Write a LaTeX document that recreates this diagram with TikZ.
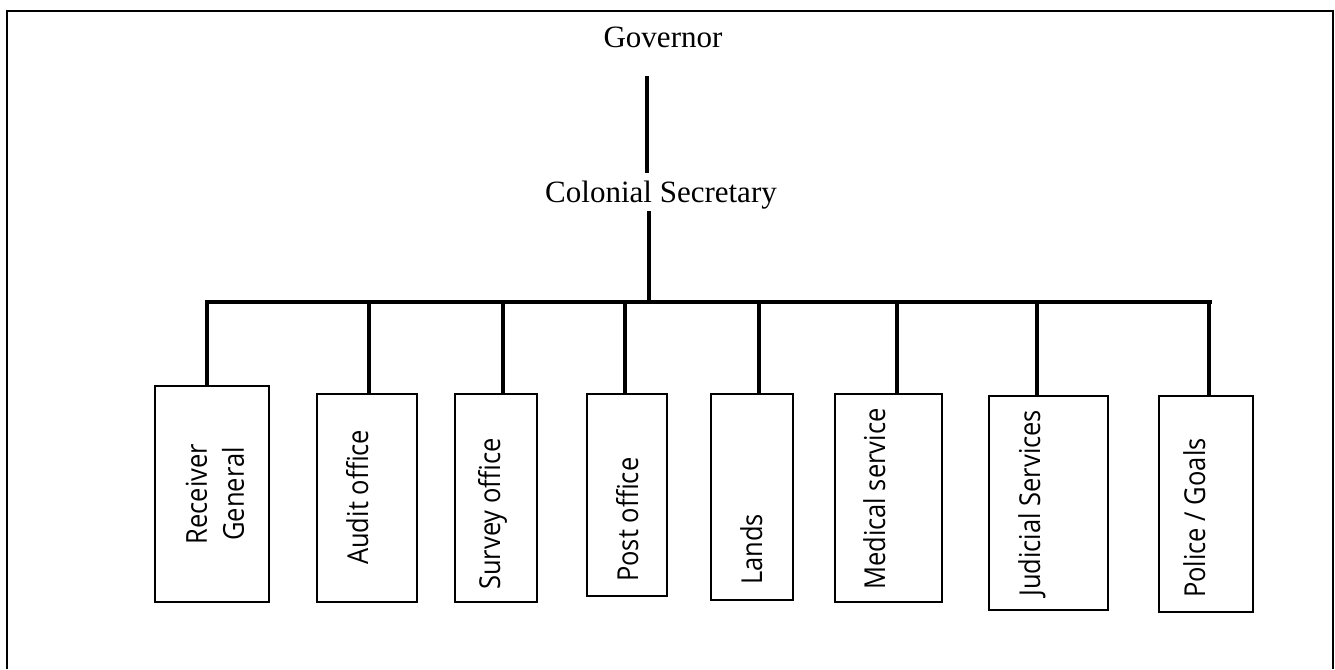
\documentclass[tikz,border=0pt]{standalone}
\usepackage{fontspec}
\usepackage{graphicx}
\setmainfont{Liberation Serif}
\newfontfamily\boxfont{Open Sans}
% slightly taller glyphs for the department labels
\newcommand{\tallword}[1]{\scalebox{1}[1.13]{#1}}
\begin{document}
\begin{tikzpicture}[x=1pt,y=-1pt,
  title/.style={font=\fontsize{31}{37}\selectfont, anchor=base, inner sep=0pt},
  office/.style={draw, line width=2.3pt, rectangle, inner sep=0pt},
  officetext/.style={font=\boxfont\fontsize{25.5}{37}\selectfont, rotate=90, anchor=base west, inner sep=0pt, align=center},
  conn/.style={line width=3.6pt},
  bus/.style={line width=4pt, line cap=rect},
  frame/.style={line width=2.2pt}]
\useasboundingbox (0,0) rectangle (1335,669);

% outer frame, open at the bottom
\draw[frame] (7,669) -- (7,11) -- (1333,11) -- (1333,669);

% titles
\node[title] (gov) at (663,48) {Governor};
\node[title] (col) at (661,202) {Colonial Secretary};

% trunk from the Governor down to the departments
\coordinate (govfoot) at (647,76);
\coordinate (colhead) at (647,173);
\coordinate (colfoot) at (649,211);
\coordinate (trunk) at (649,302);
\draw[conn] (govfoot) -- (colhead);
\draw[conn] (colfoot) -- (trunk);

% horizontal bus
\coordinate (busl) at (207,302);
\coordinate (busr) at (1210,302);
\draw[bus] (busl) -- (busr);

% department boxes
\node[office, minimum width=114pt, minimum height=216pt] (b1) at (212,494) {};
\node[office, minimum width=100pt, minimum height=208pt] (b2) at (367,498) {};
\node[office, minimum width=82pt,  minimum height=208pt] (b3) at (496,498) {};
\node[office, minimum width=80pt,  minimum height=202pt] (b4) at (627,495) {};
\node[office, minimum width=82pt,  minimum height=206pt] (b5) at (752,497) {};
\node[office, minimum width=107pt, minimum height=208pt] (b6) at (888.5,498) {};
\node[office, minimum width=119pt, minimum height=214pt] (b7) at (1048.5,503) {};
\node[office, minimum width=94pt,  minimum height=216pt] (b8) at (1206,504) {};

% drops from the bus to each box
\foreach \i/\x in {1/207,2/369,3/503,4/625,5/759,6/897,7/1037,8/1209} {
  \coordinate (d\i) at (\x,302);
  \draw[conn] (d\i) -- (d\i |- b\i.north);
}

% box labels, reading upwards
\node[officetext, anchor=center] (t1) at (215,494) {\tallword{Receiver}\\\tallword{General}};
\node[officetext] (t2) at (368,565) {\tallword{Audit office}};
\node[officetext] (t3) at (500,590) {\tallword{Survey office}};
\node[officetext] (t4) at (638,582) {\tallword{Post office}};
\node[officetext] (t5) at (762,585) {\tallword{Lands}};
\node[officetext] (t6) at (885,590) {\tallword{Medical service}};
\node[officetext] (t7) at (1040,597) {\tallword{Judicial Services}};
\node[officetext] (t8) at (1205,598) {\tallword{Police / Goals}};
\end{tikzpicture}
\end{document}
